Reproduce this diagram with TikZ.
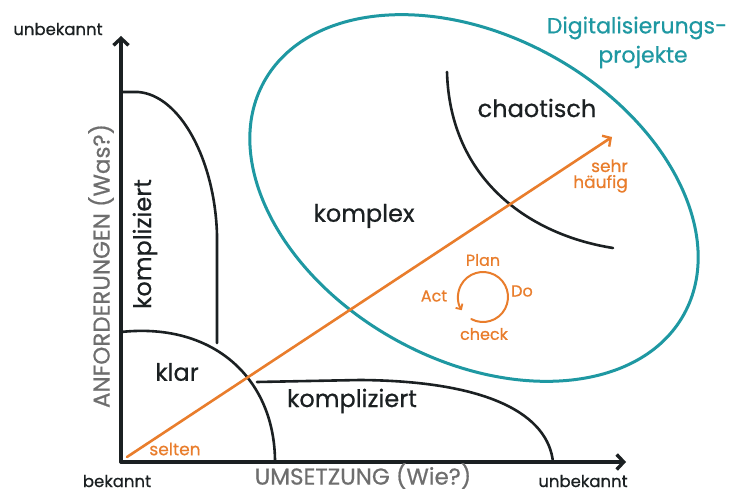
\documentclass[tikz,border=0pt]{standalone}
\usepackage{fontspec}
\setmainfont{Poppins}[FakeBold=0.6]
\usetikzlibrary{arrows.meta}
\definecolor{ink}{HTML}{1B2022}
\definecolor{axisgray}{HTML}{6E6E6E}
\definecolor{pdcaorange}{HTML}{E97D2C}
\definecolor{projteal}{HTML}{1E98A2}
\tikzset{
  axisline/.style={line width=3.4pt, ink, line cap=round, -{Straight Barb[length=7pt,width=15pt,line width=3.4pt]}},
  region/.style={line width=2.6pt, ink, line cap=round},
  darklabel/.style={ink, font=\fontsize{24}{26}\selectfont, inner sep=0pt},
  axislabel/.style={axisgray, font=\fontsize{23}{25}\selectfont, inner sep=0pt},
  endlabel/.style={ink, font=\fontsize{16.5}{18}\selectfont, inner sep=0pt},
  orangelabel/.style={pdcaorange, font=\fontsize{16}{17}\selectfont, inner sep=0pt},
  teallabel/.style={projteal, font=\fontsize{22}{22}\selectfont, inner sep=0pt},
}
\begin{document}
\begin{tikzpicture}[x=1pt, y=-1pt]
\useasboundingbox (0,0) rectangle (734,494);
\fill[white] (0,0) rectangle (734,494);

% axes
\coordinate (origin) at (121,462);
\coordinate (ytip) at (121,36);
\coordinate (xtip) at (626,462);
\draw[axisline] (origin) -- (ytip);
\draw[axisline] (origin) -- (xtip);

% project ellipse
\draw[projteal, line width=3pt, rotate around={-29:(474,198)}]
  (474,198) ellipse [x radius=240pt, y radius=162pt];

% domains
\draw[region] (121,92) -- (138,92) .. controls (180,95) and (215,160) .. (217,235) -- (217,343);
\draw[region] (121,332) .. controls (215,322) and (275,380) .. (275,462);
\draw[region] (257,382) -- (360,380) .. controls (490,381) and (548,415) .. (553,462);
\draw[region] (447,72) .. controls (450,180) and (530,235) .. (613,248);

% frequency arrow
\coordinate (rare) at (127,457);
\coordinate (often) at (612,137);
\draw[pdcaorange, line width=2.6pt, line cap=round,
  -{Straight Barb[length=6pt,width=13pt,line width=2.4pt]}] (rare) -- (often);

% PDCA cycle
\coordinate (pdca) at (483,297);
\draw[pdcaorange, line width=2pt, line cap=round,
  -{Straight Barb[length=4pt,width=8pt,line width=1.8pt]}]
  ([shift={(-118:25pt)}]pdca) arc[start angle=-118, end angle=212, radius=25pt];
\node[orangelabel] (plan) at (483,260) {Plan};
\node[orangelabel] (do) at (522,291) {Do};
\node[orangelabel] (act) at (434,296) {Act};
\node[orangelabel] (check) at (484,334) {check};

% labels
\node[endlabel] (yunknown) at (58,29) {unbekannt};
\node[endlabel] (known) at (117,481) {bekannt};
\node[endlabel] (xunknown) at (583,481) {unbekannt};
\node[axislabel] (xlabel) at (363,476) {UMSETZUNG (Wie?)};
\node[axislabel, rotate=90] (ylabel) at (101,266) {ANFORDERUNGEN (Was?)};

\node[darklabel, rotate=90] (compup) at (145,244) {kompliziert};
\node[darklabel] (clear) at (177,372) {klar};
\node[darklabel] (complow) at (352,401) {kompliziert};
\node[darklabel] (complex) at (364,216) {komplex};
\node[darklabel] (chaos) at (537,108) {chaotisch};

\node[orangelabel, font=\fontsize{17}{18}\selectfont] (seldom) at (175,449) {selten};
\node[orangelabel, font=\fontsize{17}{18}\selectfont, align=right, anchor=east] (frequent) at (628,176) {sehr\\[-2pt]häufig};

\node[teallabel] (projects1) at (637,28) {Digitalisierungs-};
\node[teallabel] (projects2) at (643,57) {projekte};
\end{tikzpicture}
\end{document}
